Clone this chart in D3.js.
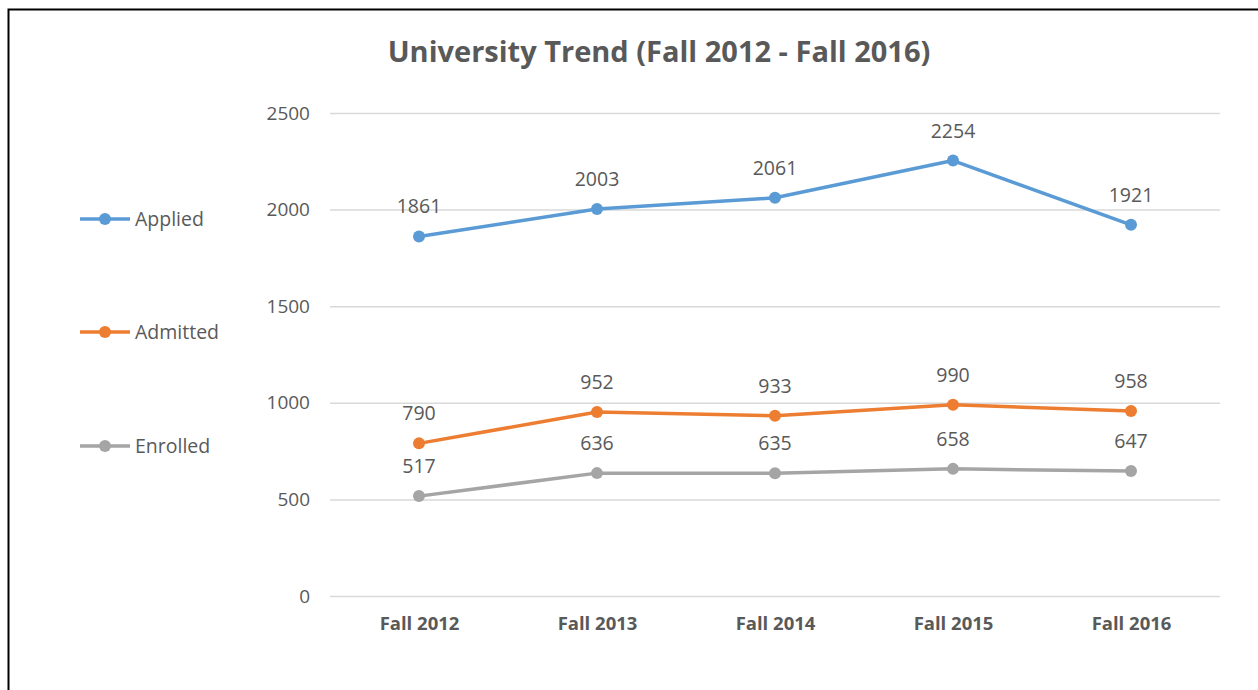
<!DOCTYPE html>
<html><head><meta charset="utf-8">
<script src="https://cdn.jsdelivr.net/npm/d3@7"></script>
<style>body{margin:0;background:#fff}svg{display:block}</style>
</head><body>
<svg id="c" width="1258" height="690"></svg>
<script>
const categories = ["Fall 2012","Fall 2013","Fall 2014","Fall 2015","Fall 2016"];
const applied = [1861,2003,2061,2254,1921];
const admitted = [790,952,933,990,958];
const enrolled = [517,636,635,658,647];
const yTicks = [0,500,1000,1500,2000,2500];
const seriesNames = ["Applied","Admitted","Enrolled"];
const seriesColors = ["#5B9BD5","#ED7D31","#A5A5A5"];
const series = [applied, admitted, enrolled];

const svg = d3.select("#c");
const font = "'Open Sans', 'Liberation Sans', sans-serif";
const txt = "#595959";

svg.append("rect").attr("x",8.5).attr("y",9.5).attr("width",1300).attr("height",700)
  .attr("fill","none").attr("stroke","#000").attr("stroke-width",2);

const x = d3.scalePoint().domain(categories).range([330,1220]).padding(0.5);
const y = d3.scaleLinear().domain([0,2500]).range([596,113]);

svg.append("text").attr("x",659).attr("y",62).attr("text-anchor","middle")
  .attr("font-family",font).attr("font-size",29).attr("font-weight","bold")
  .attr("fill",txt).text("University Trend (Fall 2012 - Fall 2016)");

const yAxis = svg.append("g").attr("transform","translate(330,0)")
  .call(d3.axisLeft(y).tickValues(yTicks).tickSize(-890).tickPadding(20).tickFormat(d3.format("d")));
yAxis.select(".domain").remove();
yAxis.selectAll("line").attr("stroke","#D9D9D9").attr("stroke-width",1.5);
yAxis.selectAll("text").attr("font-family",font).attr("font-size",19).attr("fill",txt);

const xAxis = svg.append("g").attr("transform","translate(0,596)")
  .call(d3.axisBottom(x).tickSize(0).tickPadding(21));
xAxis.select(".domain").remove();
xAxis.selectAll("text").attr("font-family",font).attr("font-size",18.5).attr("font-weight","bold").attr("fill",txt);

const line = d3.line().x((d,i)=>x(categories[i])).y(d=>y(d));
series.forEach((s,k)=>{
  const g = svg.append("g");
  g.append("path").datum(s).attr("d",line).attr("fill","none")
    .attr("stroke",seriesColors[k]).attr("stroke-width",3.5).attr("stroke-linejoin","round");
  g.selectAll("circle").data(s).join("circle")
    .attr("cx",(d,i)=>x(categories[i])).attr("cy",d=>y(d)).attr("r",6).attr("fill",seriesColors[k]);
  g.selectAll("text").data(s).join("text")
    .attr("x",(d,i)=>x(categories[i])).attr("y",d=>y(d)-23).attr("text-anchor","middle")
    .attr("font-family",font).attr("font-size",19.5).attr("fill",txt).text(d=>d);
});

const legY = [219,332,446];
seriesNames.forEach((n,k)=>{
  const g = svg.append("g");
  g.append("line").attr("x1",80).attr("x2",130).attr("y1",legY[k]).attr("y2",legY[k])
    .attr("stroke",seriesColors[k]).attr("stroke-width",3.5);
  g.append("circle").attr("cx",105).attr("cy",legY[k]).attr("r",6).attr("fill",seriesColors[k]);
  g.append("text").attr("x",135).attr("y",legY[k]).attr("dy","0.35em")
    .attr("font-family",font).attr("font-size",19.5).attr("fill",txt).text(n);
});
</script>
</body></html>
